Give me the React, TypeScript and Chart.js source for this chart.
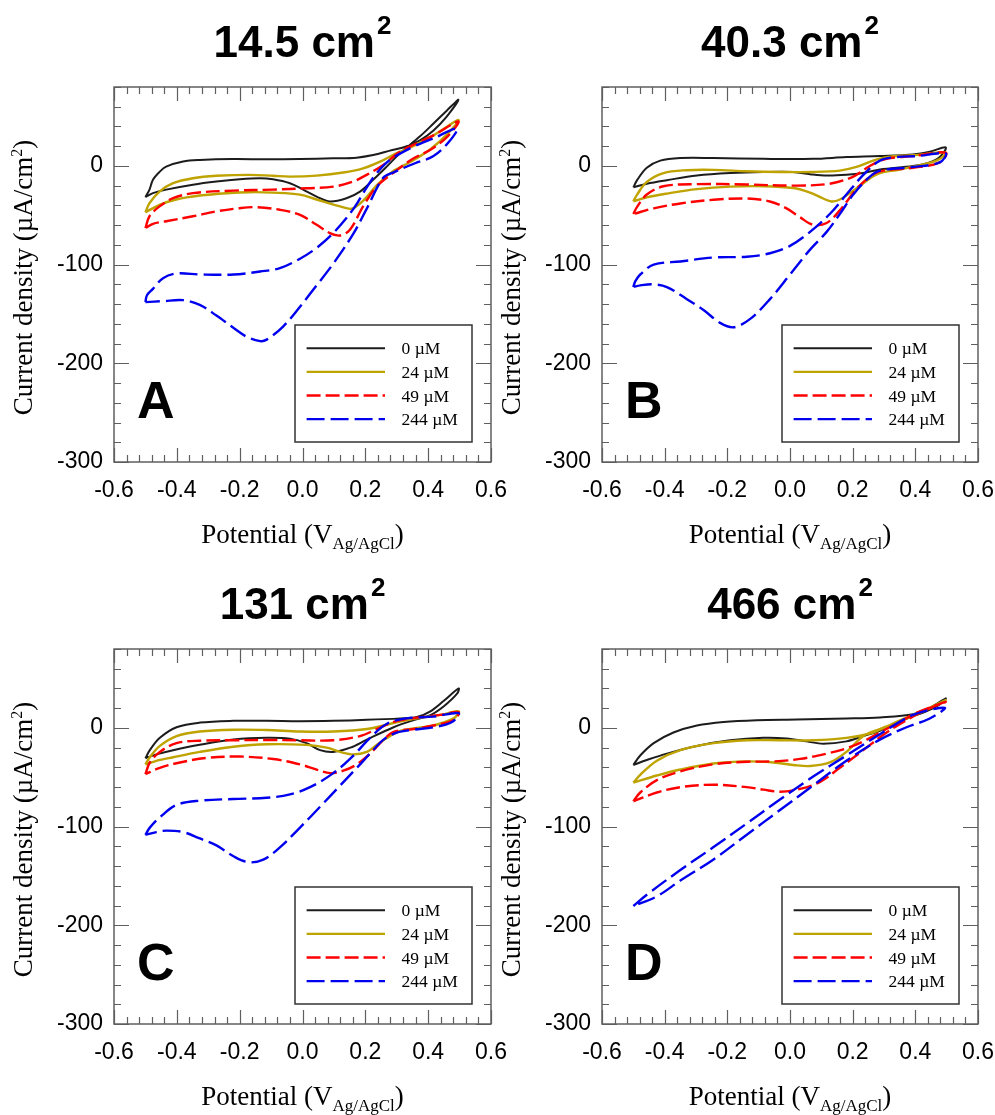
import React, { useEffect, useRef } from 'react';
import { Chart, registerables } from 'chart.js';

Chart.register(...registerables);

// ---------- axes ----------
const X_MIN = -0.6;
const X_MAX = 0.6;
const Y_MIN = -300;
const Y_MAX = 80;
const X_TICKS = [-0.6, -0.4, -0.2, 0, 0.2, 0.4, 0.6];
const Y_TICKS = [-300, -200, -100, 0];
const X_MINOR_STEP = 0.04;
const Y_MINOR_STEP = 20;

// ---------- labels ----------
const SERIES_LABELS = ['0 µM', '24 µM', '49 µM', '244 µM'];
const PANEL_TITLES = ['14.5 cm', '40.3 cm', '131 cm', '466 cm'];
const PANEL_LETTERS = ['A', 'B', 'C', 'D'];

type P = [number, number];

// ---------- Panel A (14.5 cm2) : [potential V, current density µA/cm2] ----------
const A_0: P[] = [
  [-0.5, -31.6], [-0.487, -24], [-0.476, -14], [-0.455, -6], [-0.434, -0.7], [-0.38, 4.4], [-0.327, 6],
  [-0.221, 7], [-0.115, 6.7], [-0.008, 7], [0.098, 7.7], [0.172, 8.4], [0.225, 11], [0.278, 15.5],
  [0.332, 20], [0.374, 26], [0.417, 36], [0.459, 50], [0.496, 67],
  [0.459, 56], [0.417, 43], [0.374, 30], [0.31, 12.8], [0.268, -0.7], [0.225, -14], [0.183, -26],
  [0.14, -32.7], [0.087, -36], [0.045, -31], [0.002, -24], [-0.04, -17.5], [-0.094, -13.5],
  [-0.136, -12.5], [-0.2, -13.5], [-0.274, -15.8], [-0.349, -19], [-0.434, -24], [-0.476, -27.6], [-0.5, -31.6],
];
const A_24: P[] = [
  [-0.5, -47], [-0.487, -37.7], [-0.455, -26], [-0.412, -17.5], [-0.349, -12.5], [-0.274, -10],
  [-0.168, -9], [-0.094, -10], [-0.04, -10.8], [0.045, -9.8], [0.13, -6.7], [0.193, -2.4], [0.247, 4.4],
  [0.3, 13], [0.342, 18.5], [0.417, 31], [0.496, 46.5],
  [0.46, 32], [0.407, 17], [0.343, 4], [0.285, -6], [0.237, -19.5], [0.194, -35], [0.157, -43.3],
  [0.12, -41], [0.045, -34], [-0.008, -29], [-0.094, -27], [-0.168, -26.6], [-0.242, -27.6],
  [-0.327, -30], [-0.402, -34], [-0.455, -39.4], [-0.5, -47],
];
const A_49: P[] = [
  [-0.5, -63], [-0.487, -51], [-0.455, -41], [-0.412, -32.7], [-0.349, -27.6], [-0.221, -25],
  [-0.094, -24], [0.013, -22.6], [0.098, -21], [0.161, -15.8], [0.204, -9], [0.257, 1], [0.31, 14.5],
  [0.363, 23], [0.417, 31], [0.496, 45],
  [0.462, 30], [0.41, 17], [0.35, 7], [0.289, -7], [0.236, -21], [0.193, -41], [0.151, -64.6],
  [0.119, -70.5], [0.087, -68], [0.045, -59.6], [-0.008, -49.5], [-0.072, -44.4], [-0.147, -41.8],
  [-0.2, -42.8], [-0.274, -46], [-0.349, -51], [-0.434, -56], [-0.476, -58.6], [-0.5, -63],
];
const A_244: P[] = [
  [-0.5, -138], [-0.495, -131], [-0.476, -124.5], [-0.444, -113.7], [-0.401, -109], [-0.327, -110],
  [-0.22, -110], [-0.135, -107], [-0.072, -103.6], [-0.008, -94], [0.045, -83], [0.098, -68],
  [0.161, -44], [0.2, -24], [0.236, -7.4], [0.278, 6], [0.353, 19.5], [0.417, 28], [0.492, 38],
  [0.465, 24], [0.417, 10], [0.36, 3], [0.29, -6.5], [0.257, -12], [0.205, -43], [0.162, -68.6],
  [0.098, -99], [0.045, -121], [-0.008, -142.6], [-0.061, -162.5], [-0.114, -176], [-0.135, -177.5],
  [-0.178, -173], [-0.22, -164], [-0.274, -151.6], [-0.327, -140.8], [-0.38, -136], [-0.444, -137], [-0.5, -138],
];

// ---------- Panel B (40.3 cm2) ----------
const B_0: P[] = [
  [-0.5, -21.7], [-0.488, -14.4], [-0.457, -1.8], [-0.414, 5.4], [-0.35, 8], [-0.244, 8], [-0.085, 7.2],
  [0.074, 7.2], [0.18, 9], [0.287, 10], [0.393, 11.6], [0.446, 14.4], [0.497, 18.8],
  [0.478, 9], [0.446, 3.6], [0.393, 0], [0.287, -3.6], [0.234, -7.2], [0.18, -9], [0.117, -9.7],
  [0.064, -8.3], [0.01, -6.1], [-0.085, -6.1], [-0.191, -7.2], [-0.297, -9.7], [-0.393, -14.4],
  [-0.457, -18], [-0.5, -21.7],
];
const B_24: P[] = [
  [-0.5, -36], [-0.488, -29], [-0.457, -16.2], [-0.404, -7.2], [-0.329, -4.3], [-0.244, -4],
  [-0.138, -5.4], [-0.032, -6.1], [0.074, -6.1], [0.159, -4.7], [0.212, -1], [0.265, 5.4], [0.308, 9],
  [0.393, 10.8], [0.497, 13.4],
  [0.467, 5.4], [0.35, -3.6], [0.287, -7.2], [0.255, -12.6], [0.202, -25], [0.159, -34], [0.133, -36],
  [0.106, -33], [0.064, -27], [0.01, -22.4], [-0.085, -20.6], [-0.191, -21], [-0.297, -23.5],
  [-0.393, -28], [-0.457, -31.8], [-0.5, -36],
];
const B_49: P[] = [
  [-0.5, -48.7], [-0.488, -41.5], [-0.457, -29], [-0.404, -20.6], [-0.297, -18.4], [-0.138, -18.8],
  [0.021, -19.9], [0.127, -18], [0.202, -10.8], [0.255, 0], [0.308, 7.2], [0.393, 10], [0.497, 13.4],
  [0.478, 3.6], [0.393, -1.8], [0.287, -5.4], [0.255, -10.8], [0.212, -23.5], [0.159, -45],
  [0.117, -57.8], [0.074, -59.6], [0.032, -52], [-0.011, -43], [-0.064, -36], [-0.138, -33],
  [-0.244, -34.3], [-0.35, -38], [-0.435, -43], [-0.5, -48.7],
];
const B_244: P[] = [
  [-0.5, -122.7], [-0.494, -117], [-0.478, -110], [-0.435, -100], [-0.35, -96.8], [-0.244, -92.8],
  [-0.138, -92], [-0.064, -88.5], [0, -81], [0.064, -66.8], [0.127, -48.7], [0.18, -29], [0.234, -9],
  [0.287, 5.4], [0.34, 9], [0.404, 10], [0.497, 12.6],
  [0.478, 3.6], [0.393, -1], [0.287, -4.7], [0.255, -10.8], [0.202, -29], [0.159, -48.7],
  [0.117, -66.8], [0.064, -84.8], [0, -110], [-0.064, -135], [-0.127, -155], [-0.18, -163.5],
  [-0.223, -159], [-0.276, -146], [-0.329, -135], [-0.393, -122.7], [-0.435, -120], [-0.478, -121], [-0.5, -122.7],
];

// ---------- Panel C (131 cm2) ----------
const C_0: P[] = [
  [-0.5, -30.8], [-0.486, -22.5], [-0.454, -10], [-0.401, 0.7], [-0.327, 5.4], [-0.22, 7.2],
  [-0.114, 7.2], [-0.008, 6.8], [0.098, 7.2], [0.205, 8.2], [0.311, 9.7], [0.364, 11], [0.407, 16.8],
  [0.45, 27.5], [0.497, 40],
  [0.492, 34.7], [0.45, 22], [0.407, 13], [0.354, 7.9], [0.29, 0.7], [0.205, -11.8], [0.152, -20],
  [0.098, -24.3], [0.056, -22.5], [0.013, -15.4], [-0.04, -11], [-0.114, -10], [-0.22, -11.8],
  [-0.327, -17], [-0.412, -22.5], [-0.465, -26.8], [-0.5, -30.8],
];
const C_24: P[] = [
  [-0.5, -36.9], [-0.486, -29.7], [-0.454, -18.2], [-0.401, -8.2], [-0.327, -3.6], [-0.22, -1.8],
  [-0.114, -2.1], [-0.008, -3.6], [0.098, -3.6], [0.205, -1.1], [0.29, 5], [0.364, 9.7], [0.439, 13.2],
  [0.497, 16.8],
  [0.481, 9.7], [0.417, 2.5], [0.354, -0.4], [0.311, -2.9], [0.279, -8.2], [0.237, -17], [0.205, -24.3],
  [0.162, -26.8], [0.12, -24.3], [0.077, -20], [0.013, -17.2], [-0.114, -16.5], [-0.22, -19],
  [-0.327, -24.3], [-0.412, -29.7], [-0.465, -33.3], [-0.5, -36.9],
];
const C_49: P[] = [
  [-0.5, -46.9], [-0.486, -35], [-0.454, -24.3], [-0.401, -15.4], [-0.327, -12.9], [-0.22, -12.5],
  [-0.114, -12.2], [-0.008, -12.5], [0.098, -12.5], [0.183, -8.2], [0.237, -1.1], [0.29, 6.1],
  [0.364, 10.4], [0.439, 13.2], [0.497, 16.1],
  [0.481, 7.9], [0.417, 2.5], [0.354, -1.1], [0.29, -3.9], [0.258, -11.8], [0.215, -26], [0.173, -36.9],
  [0.13, -43.3], [0.088, -45.8], [0.045, -42.2], [-0.008, -36.9], [-0.093, -31.5], [-0.2, -29],
  [-0.306, -30.4], [-0.39, -35], [-0.454, -40.4], [-0.5, -46.9],
];
const C_244: P[] = [
  [-0.5, -108.4], [-0.486, -101], [-0.454, -90.5], [-0.401, -78], [-0.327, -73.7], [-0.22, -72],
  [-0.114, -70.8], [-0.04, -67.3], [0.024, -60], [0.098, -45.8], [0.162, -28], [0.215, -10],
  [0.269, 4.3], [0.332, 9.7], [0.417, 11.5], [0.497, 15],
  [0.476, 6.1], [0.417, 0.7], [0.354, -1.8], [0.3, -4.7], [0.258, -11.8], [0.215, -26], [0.173, -40.4],
  [0.12, -58.3], [0.056, -79.8], [-0.008, -101], [-0.072, -121], [-0.125, -133.5], [-0.173, -136],
  [-0.22, -130], [-0.274, -119], [-0.327, -112], [-0.38, -105.5], [-0.433, -104], [-0.465, -105.5], [-0.5, -108.4],
];

// ---------- Panel D (466 cm2) ----------
const D_0: P[] = [
  [-0.5, -37.5], [-0.478, -27.9], [-0.435, -15.4], [-0.372, -4.6], [-0.297, 2.5], [-0.212, 6.1],
  [-0.106, 7.9], [0.021, 8.6], [0.18, 9.6], [0.287, 10.7], [0.393, 13.9], [0.446, 20.4], [0.497, 30],
  [0.478, 23.9], [0.435, 16.8], [0.372, 9.6], [0.287, -2.9], [0.234, -8.2], [0.18, -13.6], [0.106, -16],
  [0.053, -13.6], [-0.011, -10.7], [-0.085, -10], [-0.191, -12.5], [-0.297, -18.2], [-0.393, -26],
  [-0.457, -32.5], [-0.5, -37.5],
];
const D_24: P[] = [
  [-0.5, -55.4], [-0.478, -47.5], [-0.425, -33.2], [-0.35, -22.5], [-0.244, -15.4], [-0.138, -12.5],
  [-0.032, -12.5], [0.074, -12.5], [0.18, -10], [0.265, -4.6], [0.34, 6.1], [0.393, 13.2], [0.446, 20.4],
  [0.497, 28.2],
  [0.425, 16.8], [0.361, 7.9], [0.287, -1.1], [0.234, -8.2], [0.18, -24.3], [0.127, -35], [0.064, -38.6],
  [0.01, -37.5], [-0.053, -35], [-0.138, -33.9], [-0.244, -36], [-0.35, -42.1], [-0.425, -48.2], [-0.5, -55.4],
];
const D_49: P[] = [
  [-0.5, -74.3], [-0.478, -65.4], [-0.425, -52.9], [-0.35, -44], [-0.244, -36.8], [-0.138, -34.3],
  [-0.053, -33.9], [0.032, -31.4], [0.117, -26], [0.18, -20.7], [0.234, -13.6], [0.287, -4.6],
  [0.35, 6.1], [0.414, 16.8], [0.497, 26.4],
  [0.435, 18.6], [0.372, 7.9], [0.308, -4.6], [0.234, -22.5], [0.159, -40.4], [0.096, -54.6],
  [0.032, -61.8], [-0.032, -64.6], [-0.085, -62.5], [-0.138, -60], [-0.244, -57.5], [-0.35, -60],
  [-0.425, -65.4], [-0.5, -74.3],
];
const D_244: P[] = [
  [-0.5, -180.4], [-0.457, -169], [-0.35, -144], [-0.244, -120.7], [-0.138, -96.8], [-0.032, -72.5],
  [0.074, -49.3], [0.18, -27.9], [0.287, -6.4], [0.393, 13.2], [0.494, 20.4],
  [0.446, 9.6], [0.372, 0.7], [0.287, -11.8], [0.18, -33.2], [0.074, -58.2], [-0.032, -83.2],
  [-0.138, -108.2], [-0.244, -133.2], [-0.35, -154.6], [-0.425, -170.7], [-0.5, -180.4],
];

const PANEL_DATA: P[][][] = [
  [A_0, A_24, A_49, A_244],
  [B_0, B_24, B_49, B_244],
  [C_0, C_24, C_49, C_244],
  [D_0, D_24, D_49, D_244],
];

// ---------- styles & layout ----------
const SERIES_STYLE = [
  { color: '#1c1c1c', width: 2, dash: [] as number[] },
  { color: '#BFA300', width: 2.4, dash: [] as number[] },
  { color: '#FF0000', width: 2.4, dash: [14, 5] },
  { color: '#0000EE', width: 2.4, dash: [18, 6] },
];

const SANS = '"Liberation Sans", Arial, sans-serif';
const SERIF = '"Liberation Serif", "Times New Roman", serif';

// canvas rectangle and plot frame, in page pixels
const PANEL_BOX = [
  { x: 0, y: 0, w: 530, h: 557, l: 114, t: 87, r: 491, b: 462 },
  { x: 470, y: 0, w: 525, h: 557, l: 602, t: 87, r: 978, b: 462 },
  { x: 0, y: 557, w: 530, h: 558, l: 114, t: 649, r: 491, b: 1024 },
  { x: 470, y: 557, w: 525, h: 558, l: 602, t: 649, r: 978, b: 1024 },
];
const Y_AXIS_W = 100;
const X_AXIS_H = 45;

type Part = { text: string; font: string; dy: number };

function partsWidth(ctx: CanvasRenderingContext2D, parts: Part[], gap = 0) {
  let w = 0;
  parts.forEach((p, i) => {
    ctx.font = p.font;
    w += ctx.measureText(p.text).width + (i > 0 ? gap : 0);
  });
  return w;
}

function drawParts(ctx: CanvasRenderingContext2D, parts: Part[], x: number, y: number, gap = 0) {
  let cx = x;
  parts.forEach((p, i) => {
    if (i > 0) cx += gap;
    ctx.font = p.font;
    ctx.fillText(p.text, cx, y + p.dy);
    cx += ctx.measureText(p.text).width;
  });
}

const decorPlugin = {
  id: 'decor',
  afterDraw(chart: any, _args: any, opts: any) {
    const idx: number = opts.panel;
    const ctx: CanvasRenderingContext2D = chart.ctx;
    const ca = chart.chartArea;
    const xs = chart.scales.x;
    const ys = chart.scales.y;
    ctx.save();

    // inward ticks on all four sides
    ctx.strokeStyle = '#5f5f5f';
    ctx.lineWidth = 1.2;
    ctx.beginPath();
    const nx = Math.round((X_MAX - X_MIN) / X_MINOR_STEP);
    for (let i = 0; i <= nx; i++) {
      const v = X_MIN + i * X_MINOR_STEP;
      const len = i % 5 === 0 ? 14 : 7;
      const px = Math.round(xs.getPixelForValue(v)) + 0.5;
      ctx.moveTo(px, ca.bottom);
      ctx.lineTo(px, ca.bottom - len);
      ctx.moveTo(px, ca.top);
      ctx.lineTo(px, ca.top + len);
    }
    const ny = Math.round((Y_MAX - Y_MIN) / Y_MINOR_STEP);
    for (let i = 0; i <= ny; i++) {
      const v = Y_MIN + i * Y_MINOR_STEP;
      const len = i % 5 === 0 ? 15 : 7;
      const py = Math.round(ys.getPixelForValue(v)) + 0.5;
      ctx.moveTo(ca.left, py);
      ctx.lineTo(ca.left + len, py);
      ctx.moveTo(ca.right, py);
      ctx.lineTo(ca.right - len, py);
    }
    ctx.stroke();
    ctx.lineWidth = 1.5;
    ctx.strokeRect(ca.left, ca.top, ca.right - ca.left, ca.bottom - ca.top);

    ctx.fillStyle = '#000';
    ctx.textBaseline = 'alphabetic';
    ctx.textAlign = 'left';
    const cx = (ca.left + ca.right) / 2;
    const cy = (ca.top + ca.bottom) / 2;

    // panel title with superscript
    const titleParts: Part[] = [
      { text: PANEL_TITLES[idx], font: `bold 44px ${SANS}`, dy: 0 },
      { text: '2', font: `bold 26px ${SANS}`, dy: -23 },
    ];
    const tw = partsWidth(ctx, titleParts, 2);
    drawParts(ctx, titleParts, cx - tw / 2, ca.top - 30, 2);

    // x-axis title with subscript
    const xParts: Part[] = [
      { text: 'Potential (V', font: `27px ${SERIF}`, dy: 0 },
      { text: 'Ag/AgCl', font: `17px ${SERIF}`, dy: 6 },
      { text: ')', font: `27px ${SERIF}`, dy: 0 },
    ];
    const xw = partsWidth(ctx, xParts);
    drawParts(ctx, xParts, cx - xw / 2, ca.bottom + 80.5);

    // y-axis title (rotated) with superscript
    const yParts: Part[] = [
      { text: 'Current density (µA/cm', font: `27px ${SERIF}`, dy: 0 },
      { text: '2', font: `16px ${SERIF}`, dy: -10 },
      { text: ')', font: `27px ${SERIF}`, dy: 0 },
    ];
    const yw = partsWidth(ctx, yParts);
    ctx.save();
    ctx.translate(ca.left - 82.5, cy + 3);
    ctx.rotate(-Math.PI / 2);
    drawParts(ctx, yParts, -yw / 2, 0);
    ctx.restore();

    // panel letter
    ctx.font = `bold 52px ${SANS}`;
    ctx.fillText(PANEL_LETTERS[idx], ca.left + 23, ca.bottom - 44);

    // legend
    const bw = 177;
    const bh = 117;
    const bx = ca.right - 19 - bw;
    const by = ca.bottom - 20 - bh;
    ctx.fillStyle = '#fff';
    ctx.fillRect(bx, by, bw, bh);
    ctx.strokeStyle = '#333';
    ctx.lineWidth = 1.5;
    ctx.strokeRect(bx, by, bw, bh);
    SERIES_LABELS.forEach((label, s) => {
      const st = SERIES_STYLE[s];
      const ly = by + 23.3 + s * 23.6;
      ctx.save();
      ctx.strokeStyle = st.color;
      ctx.lineWidth = st.width;
      ctx.setLineDash(st.dash);
      ctx.beginPath();
      ctx.moveTo(bx + 11.6, ly);
      ctx.lineTo(bx + 90, ly);
      ctx.stroke();
      ctx.restore();
      ctx.fillStyle = '#000';
      ctx.font = `17.5px ${SERIF}`;
      ctx.fillText(label, bx + 106.5, ly + 6);
    });

    ctx.restore();
  },
};

function Panel({ idx }: { idx: number }) {
  const ref = useRef<HTMLCanvasElement>(null);
  const box = PANEL_BOX[idx];

  useEffect(() => {
    const canvas = ref.current;
    if (!canvas) return;
    const datasets = PANEL_DATA[idx].map((pts, s) => ({
      label: SERIES_LABELS[s],
      data: pts.map(([x, y]) => ({ x, y })),
      showLine: true,
      borderColor: SERIES_STYLE[s].color,
      backgroundColor: SERIES_STYLE[s].color,
      borderWidth: SERIES_STYLE[s].width,
      borderDash: SERIES_STYLE[s].dash,
      pointRadius: 0,
      pointHoverRadius: 0,
      tension: 0.35,
      fill: false,
      order: 4 - s,
    }));
    const chart = new Chart(canvas, {
      type: 'scatter',
      data: { datasets },
      options: {
        responsive: false,
        animation: false,
        devicePixelRatio: 1,
        events: [],
        layout: {
          autoPadding: false,
          padding: {
            left: box.l - box.x - Y_AXIS_W,
            top: box.t - box.y,
            right: box.x + box.w - box.r,
            bottom: box.y + box.h - box.b - X_AXIS_H,
          },
        },
        plugins: {
          legend: { display: false },
          title: { display: false },
          tooltip: { enabled: false },
          decor: { panel: idx },
        } as any,
        scales: {
          x: {
            type: 'linear',
            position: 'bottom',
            min: X_MIN,
            max: X_MAX,
            grid: { display: false, drawTicks: false, tickLength: 0 },
            border: { display: false },
            ticks: {
              font: { family: SANS, size: 23 },
              color: '#000',
              padding: 15,
              maxRotation: 0,
              autoSkip: false,
              callback: (v: any) => Number(v).toFixed(1),
            },
            afterBuildTicks: (s: any) => {
              s.ticks = X_TICKS.map((v) => ({ value: v }));
            },
            afterFit: (s: any) => {
              s.height = X_AXIS_H;
              s.paddingLeft = 0;
              s.paddingRight = 0;
            },
          },
          y: {
            type: 'linear',
            position: 'left',
            min: Y_MIN,
            max: Y_MAX,
            grid: { display: false, drawTicks: false, tickLength: 0 },
            border: { display: false },
            ticks: {
              font: { family: SANS, size: 23 },
              color: '#000',
              padding: 11,
              autoSkip: false,
              callback: (v: any) => String(v),
            },
            afterBuildTicks: (s: any) => {
              s.ticks = Y_TICKS.map((v) => ({ value: v }));
            },
            afterFit: (s: any) => {
              s.width = Y_AXIS_W;
              s.paddingTop = 0;
              s.paddingBottom = 0;
            },
          },
        },
      },
      plugins: [decorPlugin as any],
    } as any);
    return () => chart.destroy();
  }, [idx]);

  return (
    <canvas
      ref={ref}
      width={box.w}
      height={box.h}
      style={{ position: 'absolute', left: box.x, top: box.y, width: box.w, height: box.h }}
    />
  );
}

export default function App() {
  return (
    <div style={{ position: 'absolute', left: 0, top: 0, width: 995, height: 1115, background: '#fff' }}>
      {[0, 1, 2, 3].map((i) => (
        <Panel key={i} idx={i} />
      ))}
    </div>
  );
}
